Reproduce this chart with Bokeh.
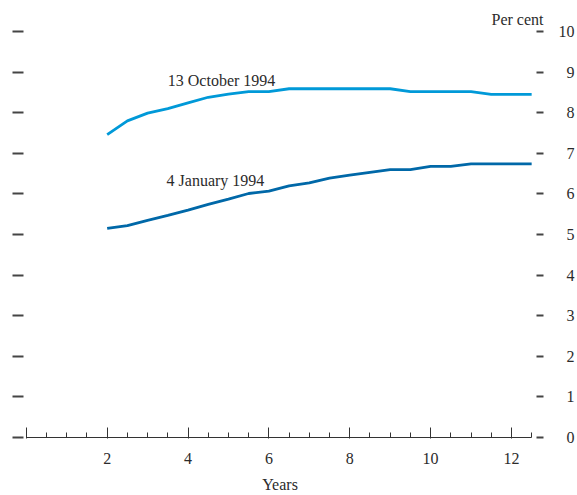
from bokeh.plotting import figure
from bokeh.models import Range1d, LinearAxis, FixedTicker, Label, ColumnDataSource, Title
from bokeh.embed import file_html
from bokeh.resources import INLINE

# ---- data ----
years = [2, 2.5, 3, 3.5, 4, 4.5, 5, 5.5, 6, 6.5, 7, 7.5, 8, 8.5, 9, 9.5,
         10, 10.5, 11, 11.5, 12, 12.5]
oct_1994 = [7.46, 7.80, 7.99, 8.10, 8.24, 8.38, 8.46, 8.52, 8.52, 8.59, 8.59,
            8.59, 8.59, 8.59, 8.59, 8.52, 8.52, 8.52, 8.52, 8.45, 8.45, 8.45]
jan_1994 = [5.15, 5.22, 5.35, 5.47, 5.60, 5.74, 5.87, 6.01, 6.07, 6.20, 6.27,
            6.39, 6.46, 6.53, 6.60, 6.60, 6.68, 6.68, 6.74, 6.74, 6.74, 6.74]
x_major_ticks = [0, 2, 4, 6, 8, 10, 12]
x_minor_ticks = [0.5 * i for i in range(26)]
y_ticks = list(range(0, 11))
series_labels = ["13 October 1994", "4 January 1994"]

FONT = "Liberation Serif"
TXT = "#2b2b2b"
TICK = "#444444"

p = figure(frame_width=513, frame_height=406,
           x_range=Range1d(-0.07, 12.62), y_range=Range1d(0, 10),
           output_backend="svg", toolbar_location=None,
           x_axis_location=None, y_axis_location=None,
           min_border_left=23, min_border_top=31, min_border_right=0,
           min_border_bottom=0)
p.outline_line_color = None
p.xgrid.visible = False
p.ygrid.visible = False
p.background_fill_color = "white"
p.border_fill_color = "white"

# unit label at top right
t = Title(text="Per cent", align="right", offset=-7, standoff=7,
          text_font=FONT, text_font_size="16px", text_font_style="normal",
          text_color=TXT)
p.add_layout(t, "above")

# bottom axis
xa = LinearAxis(ticker=FixedTicker(ticks=x_major_ticks, minor_ticks=x_minor_ticks),
                bounds=(0, 12.5), axis_label="Years")
xa.major_label_overrides = {0: ""}
xa.axis_line_color = "#333333"
xa.axis_line_width = 1
xa.major_tick_in = 10
xa.major_tick_out = 1
xa.minor_tick_in = 5
xa.minor_tick_out = 0
xa.major_tick_line_color = "#333333"
xa.minor_tick_line_color = "#333333"
xa.major_label_standoff = 14
xa.axis_label_standoff = 9
xa.major_label_text_font = FONT
xa.major_label_text_font_size = "16px"
xa.major_label_text_color = TXT
xa.axis_label_text_font = FONT
xa.axis_label_text_font_size = "16px"
xa.axis_label_text_font_style = "normal"
xa.axis_label_text_color = TXT
p.add_layout(xa, "below")

# left axis: ticks only
la = LinearAxis(ticker=FixedTicker(ticks=y_ticks))
la.axis_line_color = None
la.major_tick_in = 0
la.major_tick_out = 11
la.major_tick_line_width = 2
la.major_tick_line_color = TICK
la.minor_tick_line_color = None
la.major_label_text_font_size = "0px"
la.major_label_standoff = 0
la.major_label_overrides = {t: "" for t in y_ticks}
p.add_layout(la, "left")

# right axis with labels
ra = LinearAxis(ticker=FixedTicker(ticks=y_ticks))
ra.axis_line_color = None
ra.major_tick_in = 0
ra.major_tick_out = 7
ra.major_tick_line_width = 2
ra.major_tick_line_color = TICK
ra.minor_tick_line_color = None
ra.major_label_standoff = 15
ra.major_label_overrides = {t: ("\u2002" + str(t) if t < 10 else str(t)) for t in y_ticks}
ra.major_label_text_font = FONT
ra.major_label_text_font_size = "16px"
ra.major_label_text_color = TXT
p.add_layout(ra, "right")

src = ColumnDataSource(dict(x=years, oct=oct_1994, jan=jan_1994))
p.line("x", "oct", source=src, line_color="#0099D8", line_width=2.8)
p.line("x", "jan", source=src, line_color="#0068A8", line_width=2.8)

p.add_layout(Label(x=3.5, y=8.79, text=series_labels[0], text_font=FONT,
                   text_font_size="16px", text_color=TXT,
                   text_baseline="alphabetic"))
p.add_layout(Label(x=3.47, y=6.32, text=series_labels[1], text_font=FONT,
                   text_font_size="16px", text_color=TXT,
                   text_baseline="alphabetic"))

open("out.html", "w").write(file_html(p, INLINE))
